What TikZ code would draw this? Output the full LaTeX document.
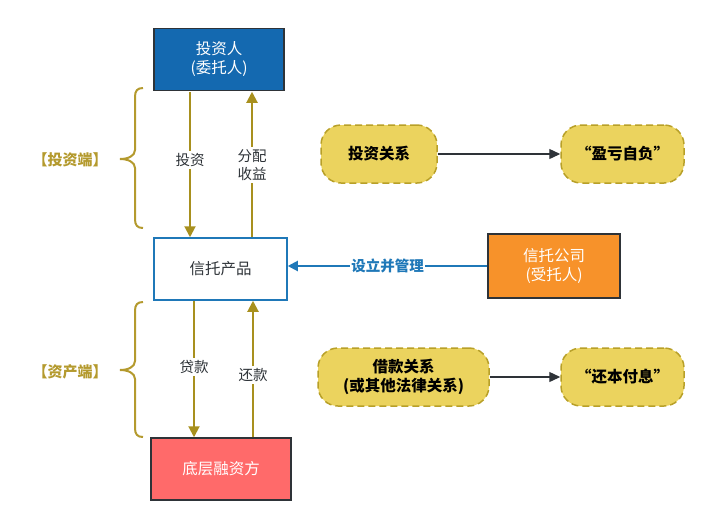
\documentclass[tikz,border=0pt]{standalone}
\usepackage{fontspec}
\setmainfont{Noto Sans CJK SC}
\usetikzlibrary{arrows.meta,positioning}
\definecolor{olive}{HTML}{A8901E}
\definecolor{brace}{HTML}{B49A2E}
\definecolor{dblue}{HTML}{1469B0}
\definecolor{lblue}{HTML}{1F78B8}
\definecolor{salmon}{HTML}{FF6A6A}
\definecolor{orng}{HTML}{F7922A}
\definecolor{yell}{HTML}{EBD35E}
\definecolor{ydash}{HTML}{B8A028}
\definecolor{dk}{HTML}{2E3338}
\begin{document}
\begin{tikzpicture}[x=1pt,y=-1pt,
  box/.style={draw=dk,line width=1.5pt,minimum width=#1,minimum height=62pt,align=center,font=\fontsize{15.5}{19}\selectfont,inner sep=0pt},
  box/.default=130pt,
  relbox/.style={draw=ydash,fill=yell,dashed,dash pattern=on 7pt off 4pt,line width=1.5pt,rounded corners=20pt,minimum height=58pt,align=center,font=\bfseries\fontsize{15.5}{19}\selectfont,inner sep=0pt},
  oarrow/.style={draw=olive,line width=2pt,-{Triangle[length=11pt,width=11pt]}},
  garrow/.style={draw=dk,line width=1.3pt,-{Triangle[length=11pt,width=10pt]}},
  lbl/.style={fill=white,inner sep=2pt,align=center,font=\fontsize{14.5}{18}\selectfont,text=dk},
  bracestyle/.style={draw=brace,line width=2pt},
  sidelbl/.style={text=brace,font=\bfseries\fontsize{15}{18}\selectfont}
]
\useasboundingbox (0,0) rectangle (714,531);
% main boxes
\node[box=130pt,fill=dblue,text=white] (inv) at (219,59.5) {投资人\\(委托人)};
\node[box=133pt,fill=white,draw=lblue,text=dk] (prod) at (220.5,269) {信托产品};
\node[box=140pt,fill=salmon,text=white] (fin) at (221,469) {底层融资方};
\node[box=132pt,fill=orng,text=white,minimum height=64pt] (co) at (554,266) {信托公司\\(受托人)};
% relation boxes
\node[relbox,minimum width=116pt] (r1) at (379,154) {投资关系};
\node[relbox,minimum width=123pt] (o1) at (622.5,154) {“盈亏自负”};
\node[relbox,minimum width=171pt] (r2) at (403.5,377) {借款关系\\(或其他法律关系)};
\node[relbox,minimum width=123pt] (o2) at (622.5,377) {“还本付息”};
% vertical arrows
\coordinate (a1s) at (190,91.75); \coordinate (a1e) at (190,237.25);
\coordinate (a2s) at (252,237.25); \coordinate (a2e) at (252,91.75);
\coordinate (a3s) at (194,300.75); \coordinate (a3e) at (194,437.25);
\coordinate (a4s) at (253,437.25); \coordinate (a4e) at (253,300.75);
\draw[oarrow] (a1s) -- (a1e);
\draw[oarrow] (a2s) -- (a2e);
\draw[oarrow] (a3s) -- (a3e);
\draw[oarrow] (a4s) -- (a4e);
\node[lbl] (l1) at (190,160) {投资};
\node[lbl] (l2) at (252,165) {分配\\收益};
\node[lbl] (l3) at (194,367) {贷款};
\node[lbl] (l4) at (253,375) {还款};
% horizontal arrows
\draw[garrow] (r1) -- (o1);
\draw[garrow] (r2) -- (o2);
\draw[draw=lblue,line width=2pt,-{Triangle[length=10pt,width=10pt]}] (co.west) -- node[fill=white,inner sep=1pt,text=lblue,font=\bfseries\fontsize{14.5}{18}\selectfont] (l5) {设立并管理} (prod.east |- co.west);
% braces
\draw[bracestyle] (143,88) .. controls (137,88) and (135,91) .. (135,97) -- (135,150) .. controls (135,156) and (128,159) .. (120,159) .. controls (128,159) and (135,162) .. (135,168) -- (135,219) .. controls (135,225) and (137,228) .. (143,228);
\draw[bracestyle] (143,302) .. controls (137,302) and (135,305) .. (135,311) -- (135,361) .. controls (135,367) and (128,370) .. (120,370) .. controls (128,370) and (135,373) .. (135,379) -- (135,428) .. controls (135,434) and (137,437) .. (143,437);
\node[sidelbl] (s1) at (70,160) {【投资端】};
\node[sidelbl] (s2) at (70,372) {【资产端】};
\end{tikzpicture}
\end{document}
